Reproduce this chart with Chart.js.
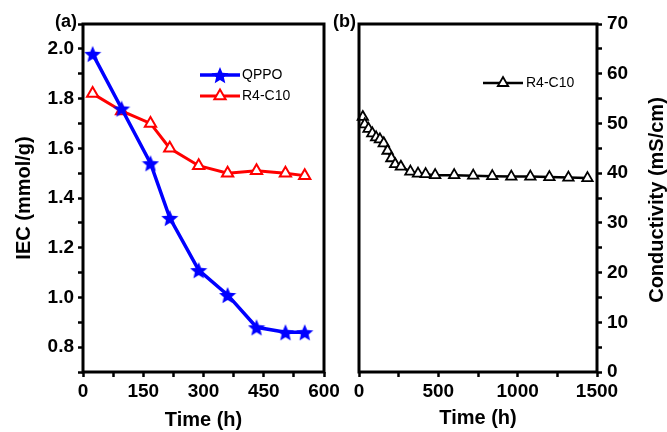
<!DOCTYPE html>
<html>
<head>
<meta charset="utf-8">
<script src="https://cdn.jsdelivr.net/npm/chart.js@4/dist/chart.umd.min.js"></script>
<style>
  body { margin: 0; background: #fff; }
  #izq { position: absolute; left: 0; top: 0; }
  #der { position: absolute; left: 320px; top: 0; }
</style>
</head>
<body>
<canvas id="izq" width="345" height="432"></canvas>
<canvas id="der" width="347" height="432"></canvas>
<script>
// panel (a): IEC vs tiempo
const tiempoIEC = [24, 96, 168, 216, 288, 360, 432, 504, 552];
const iecQPPO = [1.98, 1.76, 1.54, 1.32, 1.11, 1.01, 0.88, 0.86, 0.86];
const iecR4C10 = [1.82, 1.75, 1.70, 1.60, 1.53, 1.50, 1.51, 1.50, 1.49];

// panel (b): conductividad vs tiempo
const tiempoCond = [24, 36, 60, 84, 108, 132, 156, 180, 204, 228, 264, 324, 372, 420, 480, 600, 720, 840, 960, 1080, 1200, 1320, 1440];
const condR4C10 = [51.3, 49.8, 48.9, 48.0, 47.2, 46.8, 46.0, 44.5, 43.0, 41.8, 41.3, 40.3, 39.9, 39.8, 39.6, 39.6, 39.5, 39.4, 39.3, 39.3, 39.2, 39.1, 39.0];

const nombres = ['QPPO', 'R4-C10'];

const fuente = 'Arial, "Liberation Sans", sans-serif';

function hacerEstrella(size, color) {
  const c = document.createElement('canvas');
  c.width = size; c.height = size;
  const g = c.getContext('2d');
  const r = size / 2, ri = r * 0.45;
  g.beginPath();
  for (let i = 0; i < 10; i++) {
    const rad = i % 2 === 0 ? r : ri;
    const a = -Math.PI / 2 + i * Math.PI / 5;
    g.lineTo(r + rad * Math.cos(a), r + 1 + rad * Math.sin(a));
  }
  g.closePath();
  g.fillStyle = color;
  g.fill();
  return c;
}
const estrella = hacerEstrella(18, 'blue');

function triangulo(ctx, x, y, r, color, ancho) {
  ctx.beginPath();
  ctx.moveTo(x, y - r);
  ctx.lineTo(x + r * 0.866, y + r / 2);
  ctx.lineTo(x - r * 0.866, y + r / 2);
  ctx.closePath();
  ctx.fillStyle = '#fff';
  ctx.fill();
  ctx.lineWidth = ancho;
  ctx.strokeStyle = color;
  ctx.stroke();
}

// marco negro + leyenda + etiquetas
function marco(extra) {
  return {
    id: 'marco',
    afterDraw(chart) {
      const ctx = chart.ctx;
      const a = chart.chartArea;
      ctx.save();
      ctx.lineWidth = 3;
      ctx.strokeStyle = '#000';
      ctx.strokeRect(a.left, a.top, a.right - a.left, a.bottom - a.top);
      extra(ctx, chart);
      ctx.restore();
    }
  };
}

const ticksFont = { family: fuente, size: 19, weight: 'bold' };
const tituloFont = { family: fuente, size: 20, weight: 'bold' };
const rejilla = { drawOnChartArea: false, drawTicks: true, tickLength: 5, tickColor: '#000', tickWidth: 2.5 };

function mkXY(xs, ys) {
  return xs.map((x, i) => ({ x: x, y: ys[i] }));
}

// ---------- grafico (a)
const ctxA = document.getElementById('izq').getContext('2d');
new Chart(ctxA, {
  type: 'line',
  data: {
    datasets: [{
      label: nombres[0],
      data: mkXY(tiempoIEC, iecQPPO),
      borderColor: 'blue',
      borderWidth: 3.5,
      pointStyle: estrella,
      clip: false
    }, {
      label: nombres[1],
      data: mkXY(tiempoIEC, iecR4C10),
      borderColor: 'red',
      borderWidth: 3,
      pointStyle: 'triangle',
      pointRadius: 6.5,
      pointBorderWidth: 2,
      pointBorderColor: 'red',
      pointBackgroundColor: '#fff',
      clip: false
    }]
  },
  options: {
    responsive: false,
    animation: false,
    layout: { padding: { left: 0, right: 21, top: 24, bottom: 0 } },
    plugins: { legend: { display: false }, tooltip: { enabled: false } },
    scales: {
      x: {
        type: 'linear', min: 0, max: 600,
        afterFit: (s) => { s.height = 60; },
        border: { display: false },
        grid: rejilla,
        ticks: {
          stepSize: 75, color: '#000', font: ticksFont, padding: 3, maxRotation: 0, autoSkip: false,
          callback: (v) => (v % 150 === 0 ? v : '')
        },
        title: { display: true, text: 'Time (h)', color: '#000', font: tituloFont, padding: { top: 0, bottom: 0 } }
      },
      y: {
        min: 0.7, max: 2.1,
        afterFit: (s) => { s.width = 83; },
        border: { display: false },
        grid: rejilla,
        ticks: {
          stepSize: 0.1, color: '#000', font: ticksFont, padding: 4, autoSkip: false,
          callback: (v) => (Math.round(v * 10) % 2 === 0 ? v.toFixed(1) : '')
        },
        title: { display: true, text: 'IEC (mmol/g)', color: '#000', font: tituloFont, padding: { top: 12, bottom: 0 } }
      }
    }
  },
  plugins: [marco((ctx) => {
    ctx.font = 'bold 18px ' + fuente;
    ctx.fillStyle = '#000';
    ctx.textAlign = 'right';
    ctx.textBaseline = 'middle';
    ctx.fillText('(a)', 77, 22);
    // leyenda
    ctx.lineWidth = 3.5;
    ctx.strokeStyle = 'blue';
    ctx.beginPath(); ctx.moveTo(200, 75); ctx.lineTo(240, 75); ctx.stroke();
    ctx.drawImage(estrella, 220 - 9, 75 - 9);
    ctx.lineWidth = 3;
    ctx.strokeStyle = 'red';
    ctx.beginPath(); ctx.moveTo(200, 96); ctx.lineTo(240, 96); ctx.stroke();
    triangulo(ctx, 220, 96, 6.5, 'red', 2);
    ctx.font = '14px ' + fuente;
    ctx.fillStyle = '#000';
    ctx.textAlign = 'left';
    ctx.fillText(nombres[0], 242, 75);
    ctx.fillText(nombres[1], 242, 96);
  })]
});

// ---------- grafico (b)
const ctxB = document.getElementById('der').getContext('2d');
new Chart(ctxB, {
  type: 'line',
  data: {
    datasets: [{
      label: nombres[1],
      data: mkXY(tiempoCond, condR4C10),
      borderColor: '#000',
      borderWidth: 2.5,
      pointStyle: 'triangle',
      pointRadius: 6,
      pointBorderWidth: 1.8,
      pointBorderColor: '#000',
      pointBackgroundColor: '#fff',
      clip: false
    }]
  },
  options: {
    responsive: false,
    animation: false,
    layout: { padding: { left: 39, right: 0, top: 24, bottom: 0 } },
    plugins: { legend: { display: false }, tooltip: { enabled: false } },
    scales: {
      x: {
        type: 'linear', min: 0, max: 1500,
        afterFit: (s) => { s.height = 60; },
        border: { display: false },
        grid: rejilla,
        ticks: {
          stepSize: 250, color: '#000', font: ticksFont, padding: 3, maxRotation: 0, autoSkip: false,
          callback: (v) => (v % 500 === 0 ? v : '')
        },
        title: { display: true, text: 'Time (h)', color: '#000', font: tituloFont, padding: { top: 0, bottom: 2 } }
      },
      y: {
        position: 'right',
        min: 0, max: 70,
        afterFit: (s) => { s.width = 70; },
        border: { display: false },
        grid: rejilla,
        ticks: {
          stepSize: 5, color: '#000', font: ticksFont, padding: 5, autoSkip: false,
          callback: (v) => (v % 10 === 0 ? v : '')
        },
        title: { display: false }
      }
    }
  },
  plugins: [marco((ctx) => {
    ctx.font = 'bold 18px ' + fuente;
    ctx.fillStyle = '#000';
    ctx.textAlign = 'right';
    ctx.textBaseline = 'middle';
    ctx.fillText('(b)', 36, 22);
    // titulo eje derecho, leido de abajo hacia arriba
    ctx.save();
    ctx.translate(337, 200);
    ctx.rotate(-Math.PI / 2);
    ctx.font = 'bold 20px ' + fuente;
    ctx.textAlign = 'center';
    ctx.fillText('Conductivity (mS/cm)', 0, 0);
    ctx.restore();
    // leyenda
    ctx.lineWidth = 2.5;
    ctx.strokeStyle = '#000';
    ctx.beginPath(); ctx.moveTo(163, 83); ctx.lineTo(203, 83); ctx.stroke();
    triangulo(ctx, 183, 83, 6, '#000', 1.8);
    ctx.font = '14px ' + fuente;
    ctx.fillStyle = '#000';
    ctx.textAlign = 'left';
    ctx.fillText(nombres[1], 206, 83);
  })]
});
</script>
</body>
</html>
